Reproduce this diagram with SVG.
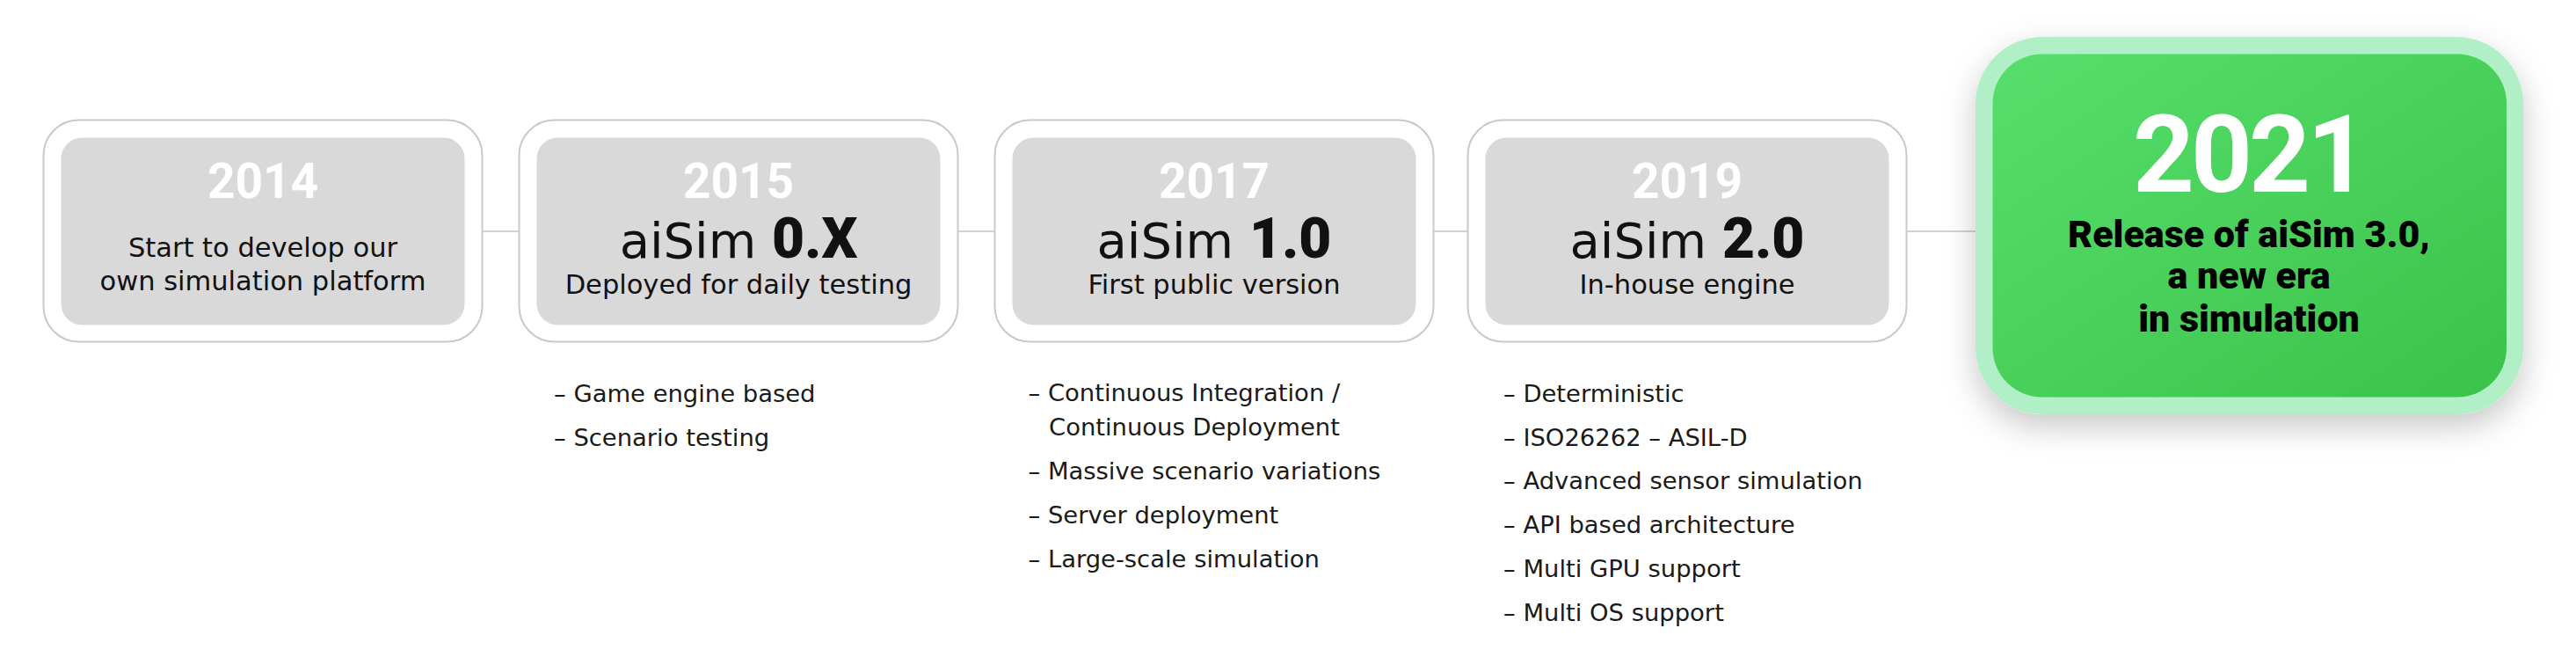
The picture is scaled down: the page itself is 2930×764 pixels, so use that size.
<svg xmlns="http://www.w3.org/2000/svg" width="2930" height="764" viewBox="0 0 2930 764">
<defs>
<linearGradient id="gg" x1="0" y1="0" x2="1" y2="1">
<stop offset="0" stop-color="#56DF6C"/>
<stop offset="1" stop-color="#3BC24A"/>
</linearGradient>
<filter id="sh" x="-20%" y="-20%" width="140%" height="150%">
<feDropShadow dx="0" dy="14" stdDeviation="18" flood-color="#000" flood-opacity="0.22"/>
</filter>
</defs>
<style>
.outer{fill:#fff;stroke:#c9c9c9;stroke-width:2}
.inner{fill:#d9d9d9}
.year{font-family:Roboto,"Liberation Sans",sans-serif;font-weight:700;font-size:55px;fill:#fff;text-anchor:middle}
.sub{font-family:"DejaVu Sans",sans-serif;font-size:30.5px;fill:#111;text-anchor:middle}
.ver{font-family:"DejaVu Sans",sans-serif;font-size:56px;fill:#111;text-anchor:middle}
.vb{font-family:Roboto,"Liberation Sans",sans-serif;font-weight:900;font-size:64px}
.li{font-family:"DejaVu Sans",sans-serif;font-size:27.4px;fill:#1a1a1a}
.conn{stroke:#d2d2d2;stroke-width:2;fill:none}
.gt{font-family:Roboto,"Liberation Sans",sans-serif;font-weight:900;font-size:43px;fill:#000;text-anchor:middle}
.gy{font-family:Roboto,"Liberation Sans",sans-serif;font-weight:700;font-size:122px;fill:#fff;text-anchor:middle;letter-spacing:-4px}
</style>
<rect width="2930" height="764" fill="#fff"/>
<g id="connectors">
<line class="conn" x1="548.5" y1="263" x2="590.5" y2="263"/>
<line class="conn" x1="1089.5" y1="263" x2="1131.5" y2="263"/>
<line class="conn" x1="1630.5" y1="263" x2="1669.5" y2="263"/>
<line class="conn" x1="2168.5" y1="263" x2="2247" y2="263"/>
</g>
<g id="node-2014">
<rect class="outer" x="49.5" y="136.5" width="499" height="252" rx="40"/>
<rect class="inner" x="69.5" y="156.5" width="459" height="213" rx="24"/>
<text class="year" x="299" y="225">2014</text>
<text class="sub" x="299" y="292">Start to develop our</text>
<text class="sub" x="299" y="329.5">own simulation platform</text>
</g>
<g id="node-2015">
<rect class="outer" x="590.5" y="136.5" width="499" height="252" rx="40"/>
<rect class="inner" x="610.5" y="156.5" width="459" height="213" rx="24"/>
<text class="year" x="840" y="225">2015</text>
<text class="ver" x="840" y="293">aiSim <tspan class="vb">0.X</tspan></text>
<text class="sub" x="840" y="334">Deployed for daily testing</text>
<text class="li" x="630" y="457">– Game engine based</text>
<text class="li" x="630" y="507">– Scenario testing</text>
</g>
<g id="node-2017">
<rect class="outer" x="1131.5" y="136.5" width="499" height="252" rx="40"/>
<rect class="inner" x="1151.5" y="156.5" width="459" height="213" rx="24"/>
<text class="year" x="1381" y="225">2017</text>
<text class="ver" x="1381" y="293">aiSim <tspan class="vb">1.0</tspan></text>
<text class="sub" x="1381" y="334">First public version</text>
<text class="li" x="1169.5" y="456">– Continuous Integration /</text>
<text class="li" x="1193" y="495">Continuous Deployment</text>
<text class="li" x="1169.5" y="544.5">– Massive scenario variations</text>
<text class="li" x="1169.5" y="594.5">– Server deployment</text>
<text class="li" x="1169.5" y="644.5">– Large-scale simulation</text>
</g>
<g id="node-2019">
<rect class="outer" x="1669.5" y="136.5" width="499" height="252" rx="40"/>
<rect class="inner" x="1689.5" y="156.5" width="459" height="213" rx="24"/>
<text class="year" x="1919" y="225">2019</text>
<text class="ver" x="1919" y="293">aiSim <tspan class="vb">2.0</tspan></text>
<text class="sub" x="1919" y="334">In-house engine</text>
<text class="li" x="1710" y="456.5">– Deterministic</text>
<text class="li" x="1710" y="506.5">– ISO26262 – ASIL-D</text>
<text class="li" x="1710" y="556">– Advanced sensor simulation</text>
<text class="li" x="1710" y="606">– API based architecture</text>
<text class="li" x="1710" y="656">– Multi GPU support</text>
<text class="li" x="1710" y="705.5">– Multi OS support</text>
</g>
<g id="node-2021">
<rect x="2247" y="42" width="623" height="429" rx="76" fill="#B1EFC6" filter="url(#sh)"/>
<rect x="2266.5" y="61.5" width="584.5" height="390" rx="56" fill="url(#gg)"/>
<text class="gy" x="2558" y="218">2021</text>
<text class="gt" x="2558" y="281">Release of aiSim 3.0,</text>
<text class="gt" x="2558" y="328">a new era</text>
<text class="gt" x="2558" y="377">in simulation</text>
</g>
</svg>
